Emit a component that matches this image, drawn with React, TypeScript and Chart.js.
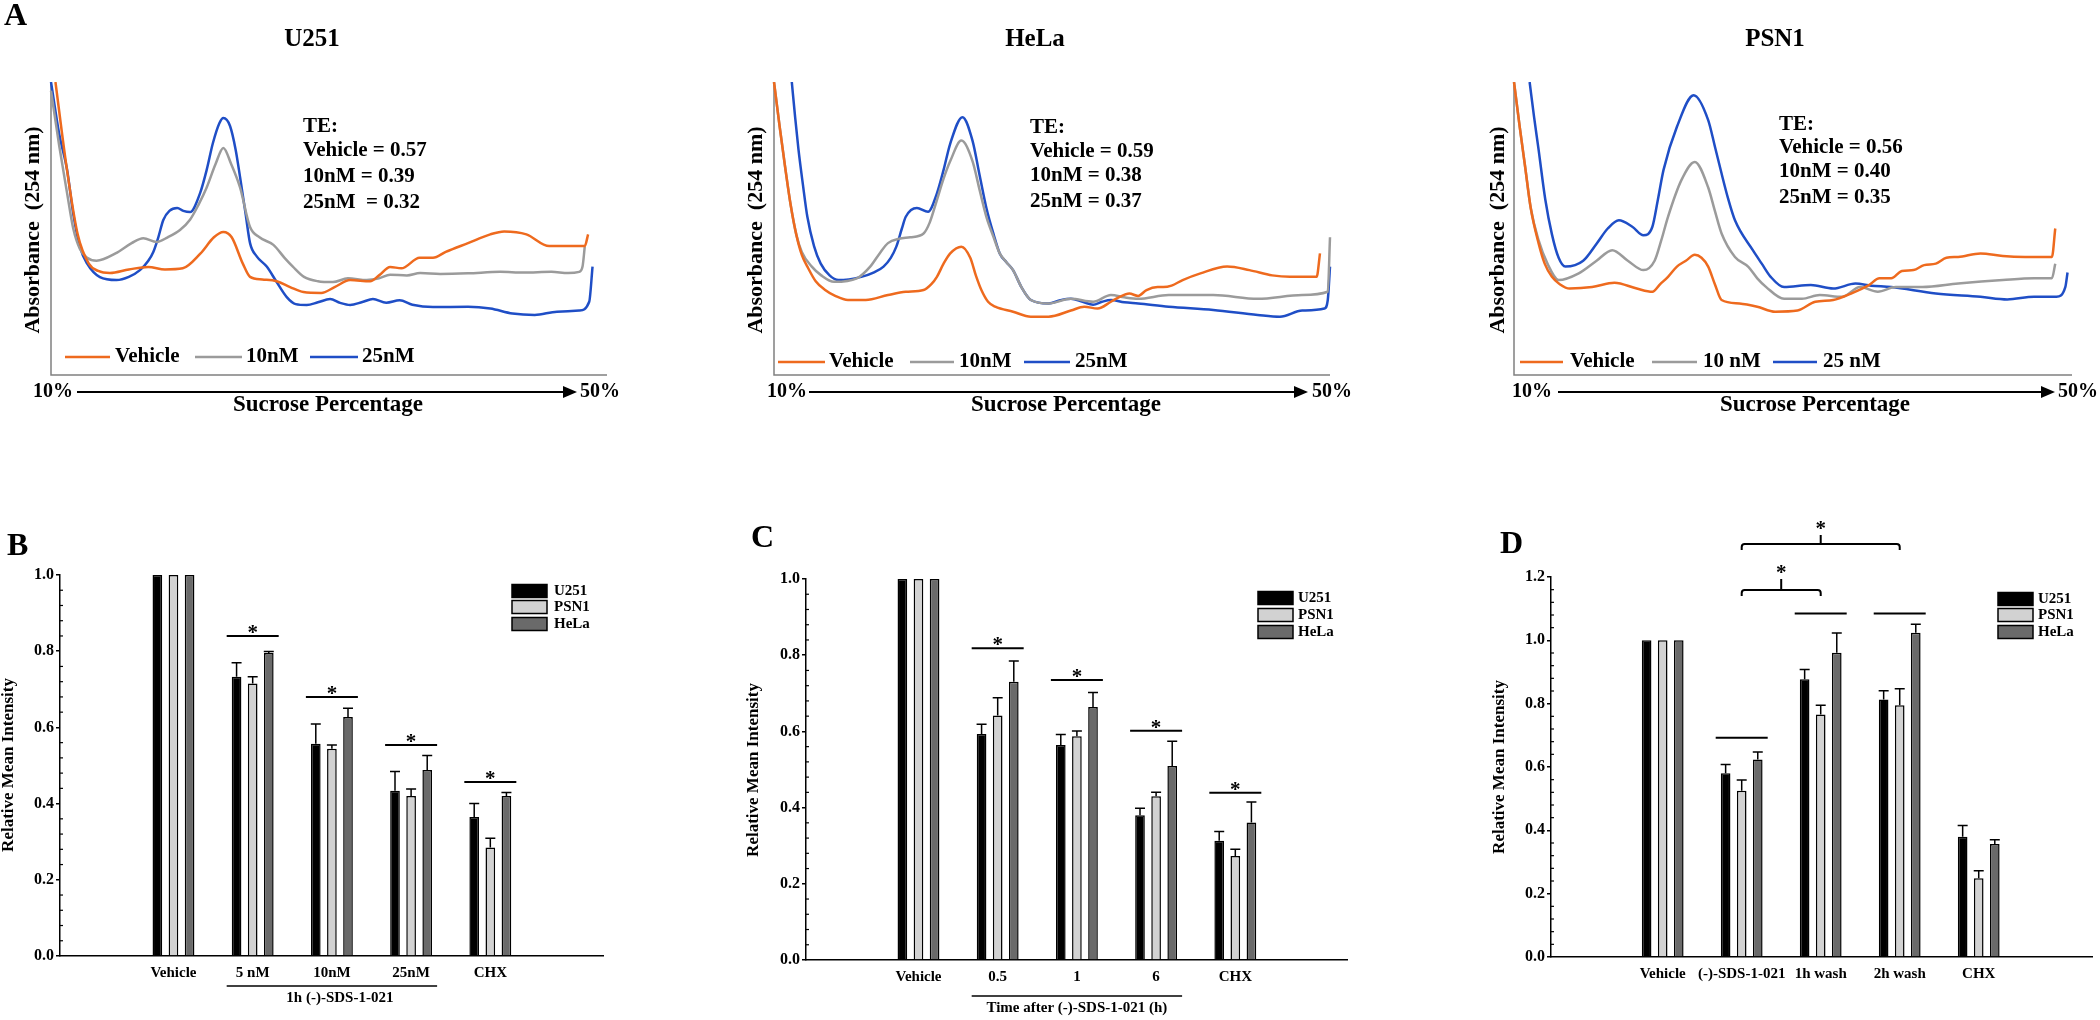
import React, { useEffect, useRef } from 'react';
import { Chart, registerables } from 'chart.js';

Chart.register(...registerables);

const FONT = '"Liberation Serif", "Times New Roman", Times, serif';
Chart.defaults.font.family = FONT;

type Pt = [number, number];

// ---------------- Panel A data: polysome profiles ----------------
// x: position along 10%→50% sucrose gradient (0..100), y: relative A254 (0..100)
const U251_VEHICLE: Pt[] = [[0.8,100],[2.8,71],[4.8,48],[6.8,38],[8.5,35.5],[10.6,34.8],[14,36],[17.5,36.9],[20.5,36],[23.7,36.4],[26.9,41.5],[29.3,47],[31,48.8],[32.5,47],[34.5,38],[35.8,33.5],[38,32.6],[40.6,32],[43,30],[45.4,28.3],[48.6,28],[51,30],[53.8,32.4],[57.4,32],[59,34],[61,36.9],[63,36.4],[66.3,40],[68.7,40],[71,42],[75,45],[79,48],[81.5,49],[85.5,48],[89.6,44],[93.6,44],[96,44],[96.6,48]];
const U251_10NM: Pt[] = [[0,97],[1.5,78],[2.9,62],[4,50],[5.2,43],[6.5,40],[8.2,39],[11.6,41.5],[14.5,45],[16.6,46.7],[19,45.4],[21,47],[23.2,49.5],[25,53],[26.5,58],[28,64],[29.6,72],[31,77.5],[32.4,72],[34,64],[35.8,50.5],[37.5,47],[40,44.4],[42,40],[43.5,37],[45.5,33.5],[48,32],[50.7,31.7],[53.4,33],[56.8,32.4],[59,33],[61,34.2],[64,34],[66.4,34.8],[70,34.5],[75,34.7],[80.8,35.2],[85,35],[90,35.2],[93,34.8],[95,35.2],[95.6,37],[96,43.8]];
const U251_25NM: Pt[] = [[0,100],[1.5,82],[2.9,70],[4,55],[5.2,43.7],[6.5,38],[8.8,33.4],[11.8,32.4],[14,33.5],[16,35.8],[17.5,39],[18.4,42],[19.3,47],[20.2,52.9],[21.3,56],[22.7,57],[23.8,56],[25,55.6],[26.8,62],[28,70],[29.1,79],[30.3,86],[31,87.7],[32.2,85],[33.2,77],[34,67.6],[35,55],[35.8,45],[37,40.5],[38.8,37],[40.5,32],[42.4,26.6],[44,24.2],[46,23.9],[48,24.8],[50.2,25.9],[52,24.6],[53.8,23.9],[56,24.9],[57.9,25.9],[60.3,24.7],[62.7,25.5],[65,24],[68.7,23.2],[75,23.3],[79,22.7],[83,21],[87,20.5],[91,21.6],[95,22],[96.8,25],[97.4,37]];

const HELA_VEHICLE: Pt[] = [[0,100],[1,85],[2,71],[3,58],[4,48],[5,41],[6,37],[7.5,32],[9.2,29],[11,27],[13.3,25.6],[16.5,25.6],[20.5,27.3],[23.7,28.4],[26.9,29],[28.3,31],[29.3,33.5],[30.5,38],[31.7,41.5],[33.7,43.8],[35.3,40],[36.3,34],[37.3,29],[38.5,25],[39.8,23.3],[43,21.6],[46.2,19.9],[49.4,19.9],[53.4,22],[55.8,23.3],[58.2,22.7],[60.6,25],[62,26.5],[63.9,27.8],[65.5,27],[67,29],[69,30],[70,30],[71.5,30.5],[73.5,32.4],[76.7,34.7],[81.5,37],[85.5,35.8],[89.6,34],[92.8,33.5],[97.6,33.5],[98.2,41.5]];
const HELA_10NM: Pt[] = [[0,100],[1,85],[2,71],[3,58],[4,48],[5,42],[6.8,37],[8.5,34],[10.8,31.8],[14.9,33],[17.3,37],[19,41.5],[20.5,45],[22.5,46.5],[24.5,47],[26.9,48.3],[28,52],[29.3,59.7],[30.5,67],[31.7,73],[33.7,80],[35.7,73],[37,63],[38.2,54],[39.5,47],[40.6,41.5],[41.8,38.5],[43,35.8],[44.5,30],[46.2,25.6],[49.4,24.4],[53.4,26],[57.4,25],[60.6,27.3],[63,26.5],[65.5,26],[71,27.3],[79,27.3],[87,26],[95,27.3],[99.6,28.4],[100,47]];
const HELA_25NM: Pt[] = [[3.2,100],[3.8,88],[4.4,77],[5.2,65],[6,54],[7.2,44],[8.4,38],[10,34],[11.6,32.4],[15.7,33.5],[18,35],[19.7,37],[21,40],[22,43.8],[23,50],[23.7,54],[25.7,57],[27.7,55.7],[29.3,62],[30.5,70],[31.7,79],[33.9,88],[35.7,80],[37,68],[38.2,57],[39.5,48],[40.6,41.5],[41.8,38.5],[43,35.8],[44.5,30],[46.2,25.6],[49.4,24.4],[51.5,25.5],[53.4,26],[55.5,25],[57.4,24],[59,25],[60.6,25.6],[63,24.8],[65.5,24.4],[71,23.3],[79,22.2],[87,20.5],[91,19.9],[95,22],[99,22.7],[99.6,25.6],[100,37]];

const PSN1_VEHICLE: Pt[] = [[0,100],[1,85],[2,71],[3,57],[4.4,45],[5.5,38],[6.8,33.5],[8.2,31],[10,29.5],[14,30],[18,31.5],[22,29.5],[24.8,28.4],[26.2,31],[27.6,33.5],[29.2,37],[30.8,39],[32.4,41],[33.6,40],[34.8,37],[36,31],[37.2,25.6],[40.4,24.4],[43.6,23.3],[46.8,21.6],[50.8,22],[54,25],[57.2,25.6],[60.4,27.8],[63.6,30.7],[65.5,33],[67.6,33],[69.5,35.5],[71.6,35.8],[73.5,37.5],[75.6,38],[77.5,40],[79.6,40.3],[83.6,41.5],[87.6,40.6],[91.6,40.3],[96.4,40.3],[97,50]];
const PSN1_10NM: Pt[] = [[0,100],[1,85],[2,71],[3,57],[4.4,46],[6,38],[8,32.4],[11.6,34.7],[14.8,39],[17.6,42.6],[20.4,39],[23.2,35.8],[25.2,39],[26.4,46],[27.6,54],[30,66.5],[32.4,72.7],[34.8,64],[36,56],[37.2,48.3],[39.6,40.3],[42,36.9],[43.6,33],[45.2,30],[48.4,26],[51.6,26],[54.8,27.3],[58.8,26.7],[62,30],[65.2,28.4],[68.4,30],[73.2,30],[79.6,31.2],[87.6,32.4],[93.2,33],[96.4,33],[97,38]];
const PSN1_25NM: Pt[] = [[2.8,100],[3.6,88],[4.4,77],[5.6,60],[6.8,48],[8,40],[9.2,37],[12.4,39],[14.8,44.8],[16.8,50],[18.8,52.8],[21.2,50.6],[23.2,47.7],[24.8,50.6],[25.8,60],[26.8,70],[29.2,84.7],[32.2,95.5],[34.8,87],[36,78],[37.2,68.75],[38.4,60],[39.6,52.8],[42.8,42.6],[44.4,38],[46,33.5],[48.4,30],[53.2,30.7],[57.2,29.5],[61.2,31.2],[64,30.5],[67.6,30],[75.6,27.8],[83.6,26.7],[88.4,25.8],[93.2,26.7],[97.2,26.7],[98.8,30],[99.2,35]];

const PROFILE_NAMES = ['Vehicle', '10nM', '25nM'];
const PSN1_NAMES = ['Vehicle', '10 nM', '25 nM'];
const U251_TE = ['TE:', 'Vehicle = 0.57', '10nM = 0.39', '25nM  = 0.32'];
const HELA_TE = ['TE:', 'Vehicle = 0.59', '10nM = 0.38', '25nM = 0.37'];
const PSN1_TE = ['TE:', 'Vehicle = 0.56', '10nM = 0.40', '25nM = 0.35'];
const PROFILE_COLORS = ['#EE6A1E', '#9B9B9B', '#1F4EC6'];

// ---------------- Panels B–D data ----------------
const CELL_LINES = ['U251', 'PSN1', 'HeLa'];
const BAR_FILLS = ['#000000', '#d2d2d2', '#6a6a6a'];

const B_CATEGORIES = ['Vehicle', '5 nM', '10nM', '25nM', 'CHX'];
const B_U251 = [1, 0.733, 0.557, 0.434, 0.365];
const B_PSN1 = [1, 0.715, 0.544, 0.42, 0.285];
const B_HELA = [1, 0.795, 0.627, 0.488, 0.42];
const B_U251_ERR = [0, 0.037, 0.052, 0.05, 0.035];
const B_PSN1_ERR = [0, 0.018, 0.01, 0.018, 0.024];
const B_HELA_ERR = [0, 0.004, 0.023, 0.038, 0.009];
const B_SIG = [null, 0.84, 0.68, 0.554, 0.457];

const C_CATEGORIES = ['Vehicle', '0.5', '1', '6', 'CHX'];
const C_U251 = [1, 0.593, 0.564, 0.38, 0.313];
const C_PSN1 = [1, 0.642, 0.587, 0.43, 0.273];
const C_HELA = [1, 0.73, 0.664, 0.509, 0.361];
const C_U251_ERR = [0, 0.026, 0.028, 0.018, 0.024];
const C_PSN1_ERR = [0, 0.046, 0.014, 0.01, 0.018];
const C_HELA_ERR = [0, 0.055, 0.038, 0.065, 0.054];
const C_SIG = [null, 0.818, 0.735, 0.602, 0.439];

const D_CATEGORIES = ['Vehicle', '(-)-SDS-1-021', '1h wash', '2h wash', 'CHX'];
const D_U251 = [1, 0.58, 0.877, 0.813, 0.38];
const D_PSN1 = [1, 0.525, 0.766, 0.795, 0.249];
const D_HELA = [1, 0.624, 0.961, 1.024, 0.357];
const D_U251_ERR = [0, 0.028, 0.031, 0.028, 0.035];
const D_PSN1_ERR = [0, 0.034, 0.029, 0.052, 0.023];
const D_HELA_ERR = [0, 0.023, 0.062, 0.027, 0.013];
const D_SIG = [null, 0.692, 1.085, 1.085, null];

// ---------------- helpers ----------------
function txt(ctx: any, s: string, x: number, y: number, size: number, align = 'left', base = 'middle', rot = 0) {
  ctx.save();
  ctx.font = `bold ${size}px ${FONT}`;
  ctx.fillStyle = '#000';
  ctx.textAlign = align;
  ctx.textBaseline = base;
  if (rot) {
    ctx.translate(x, y);
    ctx.rotate(rot);
    ctx.fillText(s, 0, 0);
  } else {
    ctx.fillText(s, x, y);
  }
  ctx.restore();
}

function makeProfile(canvas: HTMLCanvasElement, c: any) {
  const R = c.rect, A = c.area;
  const deco = {
    id: 'profileDeco',
    beforeDatasetsDraw(chart: any) {
      const { ctx, chartArea: a } = chart;
      ctx.save();
      ctx.strokeStyle = '#808080';
      ctx.lineWidth = 1.5;
      ctx.beginPath();
      ctx.moveTo(a.left, a.top);
      ctx.lineTo(a.left, a.bottom);
      ctx.lineTo(a.right, a.bottom);
      ctx.stroke();
      ctx.restore();
    },
    afterDraw(chart: any) {
      const ctx = chart.ctx;
      const X = (v: number) => v - R.x;
      const Y = (v: number) => v - R.y;
      if (c.letter) txt(ctx, c.letter.s, X(c.letter.x), Y(c.letter.y), 32, 'left', 'alphabetic');
      txt(ctx, c.title.s, X(c.title.x), Y(c.title.y), 25, 'center');
      txt(ctx, 'Absorbance  (254 nm)', X(c.ylab.x), Y(c.ylab.y), 22, 'center', 'middle', -Math.PI / 2);
      c.te.lines.forEach((s: string, i: number) => txt(ctx, s, X(c.te.x), Y(c.te.ys[i]), 21));
      c.legend.forEach((l: number[], i: number) => {
        ctx.save();
        ctx.strokeStyle = PROFILE_COLORS[i];
        ctx.lineWidth = 2.5;
        ctx.beginPath();
        ctx.moveTo(X(l[0]), Y(c.legendY));
        ctx.lineTo(X(l[1]), Y(c.legendY));
        ctx.stroke();
        ctx.restore();
        txt(ctx, c.names[i], X(l[2]), Y(c.legendY), 21);
      });
      const a = c.arrow;
      txt(ctx, '10%', X(a.t10), Y(a.y), 20);
      ctx.save();
      ctx.strokeStyle = '#000';
      ctx.fillStyle = '#000';
      ctx.lineWidth = 2;
      ctx.beginPath();
      ctx.moveTo(X(a.x1), Y(a.y));
      ctx.lineTo(X(a.x2) - 10, Y(a.y));
      ctx.stroke();
      ctx.beginPath();
      ctx.moveTo(X(a.x2), Y(a.y));
      ctx.lineTo(X(a.x2) - 14, Y(a.y) - 6);
      ctx.lineTo(X(a.x2) - 14, Y(a.y) + 6);
      ctx.closePath();
      ctx.fill();
      ctx.restore();
      txt(ctx, '50%', X(a.t50), Y(a.y), 20);
      txt(ctx, 'Sucrose Percentage', X(a.cx), Y(a.ty), 23, 'center', 'alphabetic');
    },
  };
  return new Chart(canvas, {
    type: 'line',
    data: {
      datasets: c.series.map((s: Pt[], i: number) => ({
        label: c.names[i],
        data: s.map(([x, y]) => ({ x, y })),
        borderColor: PROFILE_COLORS[i],
        borderWidth: 2.5,
        pointRadius: 0,
        fill: false,
        cubicInterpolationMode: 'monotone',
        clip: { left: 3, top: 0, right: 3, bottom: 3 },
      })),
    },
    options: {
      animation: false,
      responsive: false,
      events: [],
      layout: { padding: { left: A.l - R.x, top: A.t - R.y, right: R.x + R.w - A.r, bottom: R.y + R.h - A.b } },
      scales: {
        x: { type: 'linear', min: 0, max: 100, display: false },
        y: { type: 'linear', min: 0, max: 100, display: false },
      },
      plugins: { legend: { display: false }, tooltip: { enabled: false } },
    },
    plugins: [deco],
  } as any);
}

function makeBars(canvas: HTMLCanvasElement, c: any) {
  const R = c.rect, A = c.area;
  const YW = 40, XH = 30;
  const deco = {
    id: 'barDeco',
    afterDatasetsDraw(chart: any) {
      const ctx = chart.ctx;
      const ys = chart.scales.y;
      ctx.save();
      ctx.strokeStyle = '#000';
      ctx.lineWidth = 1.5;
      c.values.forEach((vals: number[], d: number) => {
        const meta = chart.getDatasetMeta(d);
        meta.data.forEach((el: any, i: number) => {
          const e = c.errs[d][i];
          if (!e) return;
          const y1 = ys.getPixelForValue(vals[i] + e);
          ctx.beginPath();
          ctx.moveTo(el.x, el.y);
          ctx.lineTo(el.x, y1);
          ctx.moveTo(el.x - 5, y1);
          ctx.lineTo(el.x + 5, y1);
          ctx.stroke();
        });
      });
      ctx.restore();
    },
    afterDraw(chart: any) {
      const ctx = chart.ctx;
      const xs = chart.scales.x, ys = chart.scales.y;
      const a = chart.chartArea;
      const X = (v: number) => v - R.x;
      const Y = (v: number) => v - R.y;
      ctx.save();
      ctx.strokeStyle = '#000';
      // minor ticks
      ctx.lineWidth = 1.2;
      const n = Math.round(c.yMax / 0.04);
      for (let k = 1; k < n; k++) {
        if (k % 5 === 0) continue;
        const y = ys.getPixelForValue(k * 0.04);
        ctx.beginPath();
        ctx.moveTo(a.left, y);
        ctx.lineTo(a.left + 3, y);
        ctx.stroke();
      }
      // significance lines
      ctx.lineWidth = 2;
      c.sig.forEach((v: number | null, i: number) => {
        if (v == null) return;
        const cx = xs.getPixelForValue(i + 1);
        const y = ys.getPixelForValue(v);
        ctx.beginPath();
        ctx.moveTo(cx - 26, y);
        ctx.lineTo(cx + 26, y);
        ctx.stroke();
        if (c.stars) txt(ctx, '*', cx, y + 3, 21, 'center', 'alphabetic');
      });
      // brackets
      (c.brackets || []).forEach((b: any) => {
        const x1 = xs.getPixelForValue(b.a), x2 = xs.getPixelForValue(b.b);
        const y = ys.getPixelForValue(b.y), ye = ys.getPixelForValue(b.yEnd), yt = ys.getPixelForValue(b.yTick);
        const cx = (x1 + x2) / 2;
        ctx.beginPath();
        ctx.moveTo(x1, ye);
        ctx.arcTo(x1, y, x1 + 4, y, 3);
        ctx.lineTo(x2 - 4, y);
        ctx.arcTo(x2, y, x2, ye, 3);
        ctx.lineTo(x2, ye);
        ctx.moveTo(cx, y);
        ctx.lineTo(cx, yt);
        ctx.stroke();
        txt(ctx, '*', cx, yt, 21, 'center', 'alphabetic');
      });
      // group line under the axis
      if (c.group) {
        const g = c.group;
        const x1 = xs.getPixelForValue(g.a) - 26, x2 = xs.getPixelForValue(g.b) + 26;
        ctx.lineWidth = 1.5;
        ctx.beginPath();
        ctx.moveTo(x1, Y(g.y));
        ctx.lineTo(x2, Y(g.y));
        ctx.stroke();
        txt(ctx, g.text, (x1 + x2) / 2 + g.dx, Y(g.ty), 15, 'center');
      }
      // legend
      ctx.lineWidth = 1.5;
      CELL_LINES.forEach((name, d) => {
        const y = Y(c.legend.ys[d]);
        ctx.fillStyle = BAR_FILLS[d];
        ctx.fillRect(X(c.legend.bx), y - 6.5, 35, 13);
        ctx.strokeRect(X(c.legend.bx), y - 6.5, 35, 13);
        txt(ctx, name, X(c.legend.tx), y, 15);
      });
      ctx.restore();
      txt(ctx, c.letter.s, X(c.letter.x), Y(c.letter.y), 32, 'left', 'alphabetic');
      txt(ctx, 'Relative Mean Intensity', X(c.ylab.x), Y(c.ylab.y), 17, 'center', 'middle', -Math.PI / 2);
    },
  };
  const cats: string[] = c.cats;
  return new Chart(canvas, {
    type: 'bar',
    data: {
      datasets: CELL_LINES.map((name, d) => ({
        label: name,
        data: c.values[d].map((v: number, i: number) => ({ x: i + 1, y: v })),
        backgroundColor: BAR_FILLS[d],
        borderColor: '#000',
        borderWidth: 1.5,
        barPercentage: 0.6,
        categoryPercentage: 0.61,
      })),
    },
    options: {
      animation: false,
      responsive: false,
      events: [],
      layout: { padding: { left: A.l - R.x - YW, top: A.t - R.y, right: R.x + R.w - A.r, bottom: R.y + R.h - A.b - XH } },
      scales: {
        x: {
          type: 'linear',
          min: c.xMin,
          max: c.xMax,
          border: { display: true, color: '#000', width: 1.5 },
          grid: { display: false, drawTicks: false },
          ticks: {
            color: '#000',
            padding: 8,
            autoSkip: false,
            maxRotation: 0,
            font: { family: FONT, size: 15, weight: 'bold' },
            callback: (v: any) => cats[Math.round(Number(v)) - 1] ?? '',
          },
          afterBuildTicks: (s: any) => { s.ticks = cats.map((_, i) => ({ value: i + 1 })); },
          afterFit: (s: any) => { s.height = XH; },
        },
        y: {
          type: 'linear',
          min: 0,
          max: c.yMax,
          border: { display: true, color: '#000', width: 1.5 },
          grid: { display: true, drawOnChartArea: false, drawTicks: true, tickLength: 4, color: '#000', lineWidth: 1.5 },
          ticks: {
            stepSize: 0.2,
            padding: 2,
            color: '#000',
            font: { family: FONT, size: 16, weight: 'bold' },
            callback: (v: any) => Number(v).toFixed(1),
          },
          afterFit: (s: any) => { s.width = YW; },
        },
      },
      plugins: { legend: { display: false }, tooltip: { enabled: false } },
    },
    plugins: [deco],
  } as any);
}

// ---------------- panel configs (layout only) ----------------
const PANEL_U251 = {
  rect: { x: 0, y: 0, w: 700, h: 430 }, area: { l: 51, t: 82, r: 607, b: 375 },
  letter: { s: 'A', x: 4, y: 25 }, title: { s: 'U251', x: 312, y: 40 }, ylab: { x: 33, y: 230 },
  series: [U251_VEHICLE, U251_10NM, U251_25NM], names: PROFILE_NAMES,
  legendY: 357, legend: [[65, 110, 115], [195, 242, 246], [310, 358, 362]],
  te: { x: 303, ys: [127, 151, 177, 203], lines: U251_TE },
  arrow: { t10: 33, x1: 77, x2: 577, t50: 580, y: 392, cx: 328, ty: 411 },
};
const PANEL_HELA = {
  rect: { x: 700, y: 0, w: 700, h: 430 }, area: { l: 774, t: 82, r: 1330, b: 375 },
  title: { s: 'HeLa', x: 1035, y: 40 }, ylab: { x: 756, y: 230 },
  series: [HELA_VEHICLE, HELA_10NM, HELA_25NM], names: PROFILE_NAMES,
  legendY: 362, legend: [[778, 825, 829], [910, 954, 959], [1024, 1070, 1075]],
  te: { x: 1030, ys: [128, 152, 176, 202], lines: HELA_TE },
  arrow: { t10: 767, x1: 809, x2: 1308, t50: 1312, y: 392, cx: 1066, ty: 411 },
};
const PANEL_PSN1 = {
  rect: { x: 1400, y: 0, w: 700, h: 430 }, area: { l: 1514, t: 82, r: 2072, b: 375 },
  title: { s: 'PSN1', x: 1775, y: 40 }, ylab: { x: 1498, y: 230 },
  series: [PSN1_VEHICLE, PSN1_10NM, PSN1_25NM], names: PSN1_NAMES,
  legendY: 362, legend: [[1520, 1563, 1570], [1652, 1697, 1703], [1773, 1817, 1823]],
  te: { x: 1779, ys: [125, 148, 172, 198], lines: PSN1_TE },
  arrow: { t10: 1512, x1: 1558, x2: 2055, t50: 2058, y: 392, cx: 1815, ty: 411 },
};

const PANEL_B = {
  rect: { x: 0, y: 470, w: 700, h: 550 }, area: { l: 60, t: 575, r: 603, b: 956 },
  yMax: 1.0, xMin: 0.253, xMax: 5.737, cats: B_CATEGORIES,
  values: [B_U251, B_PSN1, B_HELA], errs: [B_U251_ERR, B_PSN1_ERR, B_HELA_ERR],
  letter: { s: 'B', x: 7, y: 555 }, ylab: { x: 9, y: 765 },
  legend: { bx: 512, tx: 554, ys: [591, 607, 624] },
  sig: B_SIG, stars: true, brackets: [],
  group: { a: 2, b: 4, y: 986, text: '1h (-)-SDS-1-021', ty: 998, dx: 8 },
};
const PANEL_C = {
  rect: { x: 700, y: 470, w: 700, h: 550 }, area: { l: 806, t: 579, r: 1347, b: 960 },
  yMax: 1.0, xMin: 0.263, xMax: 5.727, cats: C_CATEGORIES,
  values: [C_U251, C_PSN1, C_HELA], errs: [C_U251_ERR, C_PSN1_ERR, C_HELA_ERR],
  letter: { s: 'C', x: 751, y: 547 }, ylab: { x: 754, y: 770 },
  legend: { bx: 1258, tx: 1298, ys: [598, 615, 632] },
  sig: C_SIG, stars: true, brackets: [],
  group: { a: 2, b: 4, y: 996, text: 'Time after (-)-SDS-1-021 (h)', ty: 1008, dx: 0 },
};
const PANEL_D = {
  rect: { x: 1400, y: 470, w: 700, h: 550 }, area: { l: 1551, t: 577, r: 2092, b: 957 },
  yMax: 1.2, xMin: 0.271, xMax: 5.749, cats: D_CATEGORIES,
  values: [D_U251, D_PSN1, D_HELA], errs: [D_U251_ERR, D_PSN1_ERR, D_HELA_ERR],
  letter: { s: 'D', x: 1500, y: 553 }, ylab: { x: 1500, y: 767 },
  legend: { bx: 1998, tx: 2038, ys: [599, 615, 632] },
  sig: D_SIG, stars: false,
  brackets: [
    { a: 2, b: 3, y: 1.159, yEnd: 1.14, yTick: 1.194 },
    { a: 2, b: 4, y: 1.304, yEnd: 1.285, yTick: 1.333 },
  ],
};

function ChartBox({ cfg, kind }: { cfg: any; kind: 'profile' | 'bars' }) {
  const ref = useRef<HTMLCanvasElement>(null);
  useEffect(() => {
    const chart = kind === 'profile' ? makeProfile(ref.current!, cfg) : makeBars(ref.current!, cfg);
    return () => chart.destroy();
  }, [cfg, kind]);
  const r = cfg.rect;
  return (
    <canvas
      ref={ref}
      width={r.w}
      height={r.h}
      style={{ position: 'absolute', left: r.x, top: r.y, width: r.w, height: r.h }}
    />
  );
}

export default function App() {
  return (
    <div style={{ position: 'absolute', left: 0, top: 0, width: 2100, height: 1020, background: '#fff', overflow: 'hidden' }}>
      <ChartBox cfg={PANEL_U251} kind="profile" />
      <ChartBox cfg={PANEL_HELA} kind="profile" />
      <ChartBox cfg={PANEL_PSN1} kind="profile" />
      <ChartBox cfg={PANEL_B} kind="bars" />
      <ChartBox cfg={PANEL_C} kind="bars" />
      <ChartBox cfg={PANEL_D} kind="bars" />
    </div>
  );
}
